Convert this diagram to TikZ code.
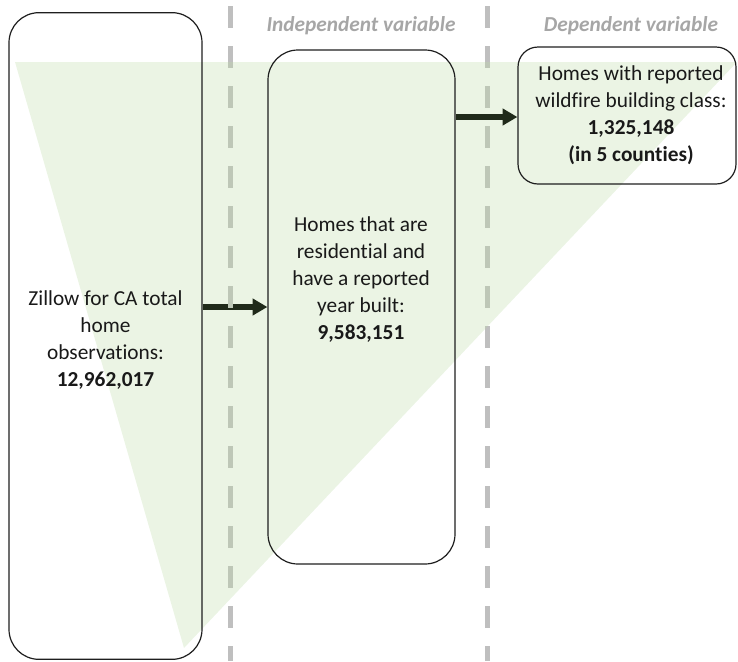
\documentclass[tikz,border=0pt]{standalone}
\usepackage{fontspec}
\setmainfont{Carlito}[Ligatures=NoCommon]
\usetikzlibrary{arrows.meta}
\definecolor{trifill}{RGB}{235,244,228}
\definecolor{dashgray}{RGB}{191,191,191}
\definecolor{dashgreen}{RGB}{190,199,183}
\definecolor{hdrgray}{RGB}{166,166,166}
\definecolor{arrowdark}{RGB}{32,42,26}
\definecolor{boxline}{RGB}{30,30,30}
\definecolor{txtcol}{RGB}{25,25,25}
\begin{document}
\begin{tikzpicture}[x=0.75pt,y=-0.75pt,
  box/.style={draw=boxline, line width=0.9pt, inner sep=0pt},
  txt/.style={align=center, font=\fontsize{16pt}{20.25pt}\selectfont, text=txtcol},
  hdr/.style={font=\fontsize{16pt}{18pt}\selectfont\bfseries\itshape, text=hdrgray},
  arr/.style={draw=arrowdark, line width=4.5pt, -{Triangle[length=11pt,width=12pt]}},
  dashln/.style={line width=3.75pt, dash pattern=on 16.5pt off 13.5pt}]
\useasboundingbox (0,0) rectangle (738,661);
% triangle
\fill[trifill] (15,62) -- (737,62) -- (184,648) -- cycle;
% boxes
\node[box, rounded corners=22.5pt, minimum width=144.75pt, minimum height=485pt] (lbox) at (105.5,336) {};
\node[box, rounded corners=22.5pt, minimum width=140.25pt, minimum height=385.5pt] (mbox) at (361.5,307) {};
\node[box, rounded corners=15pt, minimum width=163.5pt, minimum height=102.75pt] (rbox) at (627,115.5) {};
% arrows
\coordinate (a1s) at (lbox.east |- mbox.center);
\coordinate (a2s) at (mbox.east |- 0,117);
\coordinate (a2e) at (rbox.west |- 0,117);
\draw[arr] (a1s) -- (mbox.west);
\draw[arr] (a2s) -- (a2e);
% dashed separators
\coordinate (d1t) at (230,6);
\coordinate (d1b) at (230,661);
\coordinate (d2t) at (487,6);
\coordinate (d2b) at (487,661);
\draw[dashln, draw=dashgray] (d1t) -- (d1b);
\draw[dashln, draw=dashgray] (d2t) -- (d2b);
\begin{scope}
  \clip (15,62) -- (737,62) -- (184,648) -- cycle;
  \draw[dashln, draw=dashgreen] (d1t) -- (d1b);
  \draw[dashln, draw=dashgreen] (d2t) -- (d2b);
\end{scope}
% headers
\node[hdr] (h1) at (361,26) {Independent variable};
\node[hdr] (h2) at (631,26) {Dependent variable};
% texts
\node[txt] (t1) at (105.5,340) {Zillow for CA total\\home\\observations:\\\textbf{12,962,017}};
\node[txt] (t2) at (361,279.5) {Homes that are\\residential and\\have a reported\\year built:\\\textbf{9,583,151}};
\node[txt] (t3) at (631,115.5) {Homes with reported\\wildfire building class:\\\textbf{1,325,148}\\\textbf{(in 5 counties)}};
\end{tikzpicture}
\end{document}
